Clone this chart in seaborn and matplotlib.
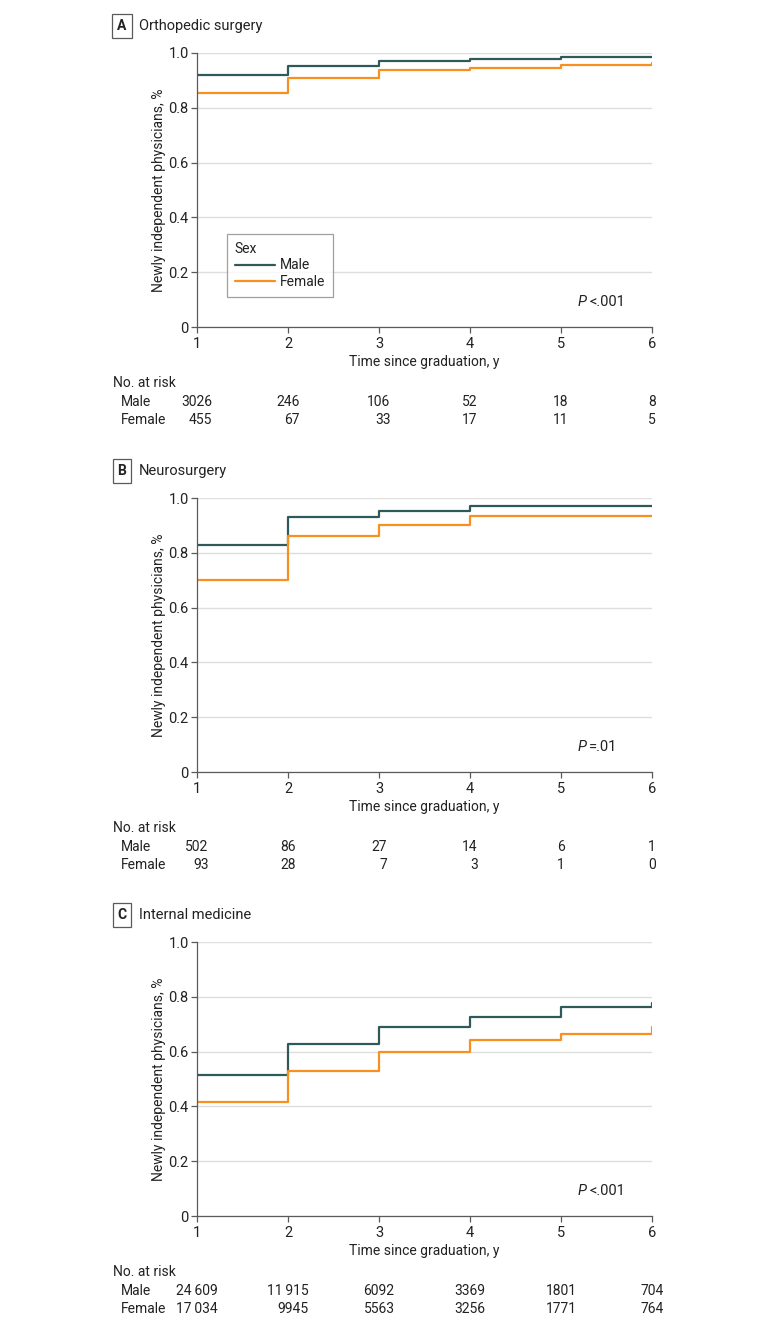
import numpy as np
import pandas as pd
import matplotlib.pyplot as plt
import matplotlib.transforms as mtransforms
import seaborn as sns

# Daten
jahre = [1, 2, 3, 4, 5, 6]
tick_jahre = [1, 2, 3, 4, 5, 6]

ortho_male = [0.918, 0.954, 0.969, 0.978, 0.984, 0.986]
ortho_female = [0.854, 0.910, 0.937, 0.946, 0.957, 0.964]
neuro_male = [0.829, 0.929, 0.954, 0.971, 0.971, 0.971]
neuro_female = [0.702, 0.862, 0.901, 0.935, 0.935, 0.935]
innere_male = [0.516, 0.628, 0.688, 0.728, 0.761, 0.776]
innere_female = [0.417, 0.528, 0.598, 0.641, 0.665, 0.688]

risk_ortho_male = ['3026', '246', '106', '52', '18', '8']
risk_ortho_female = ['455', '67', '33', '17', '11', '5']
risk_neuro_male = ['502', '86', '27', '14', '6', '1']
risk_neuro_female = ['93', '28', '7', '3', '1', '0']
risk_innere_male = ['24\u2009609', '11\u2009915', '6092', '3369', '1801', '704']
risk_innere_female = ['17\u2009034', '9945', '5563', '3256', '1771', '764']

panel_buchstaben = ['A', 'B', 'C']
panel_titel = ['Orthopedic surgery', 'Neurosurgery', 'Internal medicine']
p_werte = ['<.001', '=.01', '<.001']

# ------------------------------------------

sns.set_style('white')
plt.rcParams['font.family'] = ['Roboto', 'DejaVu Sans']

farbe_male = '#2F5A5A'
farbe_female = '#F7901E'
farbe_achse = '#5a5a5a'
farbe_text = '#222222'
fs = 10

W, H = 780, 1328
fig = plt.figure(figsize=(W / 100, H / 100), dpi=100)

ax_left_px, ax_w_px, ax_h_px = 197, 455, 274
ax_bottoms_px = [327, 772, 1216]

daten = [
    (ortho_male, ortho_female, risk_ortho_male, risk_ortho_female),
    (neuro_male, neuro_female, risk_neuro_male, risk_neuro_female),
    (innere_male, innere_female, risk_innere_male, risk_innere_female),
]

achsen = []
for i, (male, female, r_male, r_female) in enumerate(daten):
    bottom_px = ax_bottoms_px[i]
    ax = fig.add_axes([ax_left_px / W, 1 - bottom_px / H, ax_w_px / W, ax_h_px / H])
    achsen.append(ax)

    df = pd.DataFrame({
        'Jahr': jahre * 2,
        'Anteil': male + female,
        'Sex': ['Male'] * len(jahre) + ['Female'] * len(jahre),
    })
    sns.lineplot(data=df, x='Jahr', y='Anteil', hue='Sex',
                 palette={'Male': farbe_male, 'Female': farbe_female},
                 drawstyle='steps-post', linewidth=1.6, errorbar=None,
                 legend=(i == 0), ax=ax)

    ax.set_xlim(1, 6)
    ax.set_ylim(0, 1)
    ax.set_xticks(tick_jahre)
    ax.set_xticklabels([str(t) for t in tick_jahre], fontsize=fs + 0.5, color=farbe_text)
    ax.set_yticks([0, 0.2, 0.4, 0.6, 0.8, 1.0])
    ax.set_yticklabels(['0', '0.2', '0.4', '0.6', '0.8', '1.0'], fontsize=fs + 0.5, color=farbe_text)
    ax.grid(axis='y', color='#dedede', linewidth=1)
    ax.set_axisbelow(True)
    for s in ['top', 'right']:
        ax.spines[s].set_visible(False)
    for s in ['left', 'bottom']:
        ax.spines[s].set_color(farbe_achse)
        ax.spines[s].set_linewidth(0.9)
    ax.tick_params(axis='both', length=4, width=0.9, color=farbe_achse,
                   direction='out', bottom=True, left=True)
    ax.tick_params(axis='x', pad=3.5)
    ax.tick_params(axis='y', pad=2)

    ax.set_xlabel('Time since graduation, y', fontsize=fs, color=farbe_text)
    ax.xaxis.set_label_coords(0.5, -28 / ax_h_px)
    ax.set_ylabel('Newly independent physicians, %', fontsize=fs, color=farbe_text)
    ax.yaxis.set_label_coords(-31 / ax_w_px, 0.5)

    # P-Wert
    ax.text(0.857, 0.09, 'P', style='italic', ha='right', va='center',
            fontsize=fs + 0.5, color=farbe_text, transform=ax.transAxes)
    ax.text(0.862, 0.09, p_werte[i], ha='left', va='center',
            fontsize=fs + 0.5, color=farbe_text, transform=ax.transAxes)

    # Panel-Ueberschrift
    top_px = bottom_px - ax_h_px
    fig.text(122 / W, 1 - (top_px - 27) / H, panel_buchstaben[i], ha='center', va='center',
             fontsize=fs, fontweight='bold', color=farbe_text,
             bbox=dict(boxstyle='square,pad=0.35', fc='white', ec=farbe_achse, lw=0.9))
    fig.text(139 / W, 1 - (top_px - 27) / H, panel_titel[i], ha='left', va='center',
             fontsize=fs + 0.5, color=farbe_text)

    # No. at risk
    fig.text(113 / W, 1 - (bottom_px + 56) / H, 'No. at risk', ha='left', va='center',
             fontsize=fs, color=farbe_text)
    fig.text(121 / W, 1 - (bottom_px + 75) / H, 'Male', ha='left', va='center',
             fontsize=fs, color=farbe_text)
    fig.text(121 / W, 1 - (bottom_px + 93) / H, 'Female', ha='left', va='center',
             fontsize=fs, color=farbe_text)

    trans = mtransforms.blended_transform_factory(ax.transData, fig.transFigure)
    renderer = fig.canvas.get_renderer()
    for x, m, f in zip(tick_jahre, r_male, r_female):
        t = fig.text(0, 0, m, fontsize=fs)
        breite = t.get_window_extent(renderer).width
        t.remove()
        px_rechts = ax.transData.transform((x, 0))[0] + breite / 2
        x_rechts = ax.transData.inverted().transform((px_rechts, 0))[0]
        ax.text(x_rechts, 1 - (bottom_px + 75) / H, m, ha='right', va='center',
                fontsize=fs, color=farbe_text, transform=trans, clip_on=False)
        ax.text(x_rechts, 1 - (bottom_px + 93) / H, f, ha='right', va='center',
                fontsize=fs, color=farbe_text, transform=trans, clip_on=False)

# Legende
leg = achsen[0].legend(title='Sex', loc='lower left', bbox_to_anchor=(0.066, 0.11),
                       borderaxespad=0, frameon=True, fancybox=False, edgecolor='#888888',
                       fontsize=fs, title_fontsize=fs, handlelength=2.9,
                       handletextpad=0.35, borderpad=0.55, labelspacing=0.2,
                       alignment='left')
leg.get_frame().set_linewidth(0.9)
for t in leg.get_texts():
    t.set_color(farbe_text)
leg.get_title().set_color(farbe_text)

fig.savefig('out.png', dpi=100)
